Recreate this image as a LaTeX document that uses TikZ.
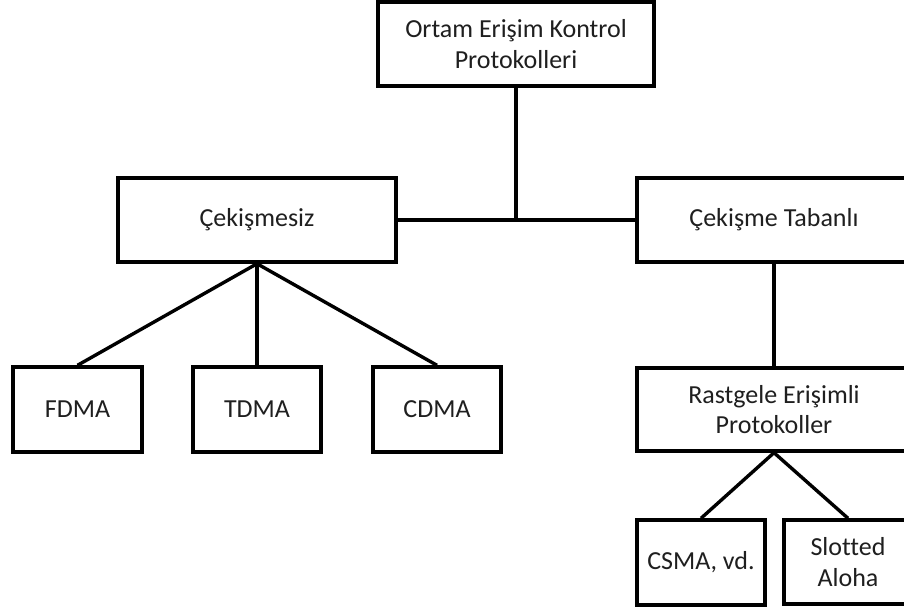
\documentclass[tikz,border=0pt]{standalone}
\usepackage{fontspec}
\setmainfont{Carlito}[Ligatures=NoCommon]
\begin{document}
\begin{tikzpicture}[x=1pt,y=-1pt,
  box/.style={draw=black, line width=3.4pt, fill=white, inner sep=0pt,
    align=center, font=\fontsize{26}{30.5}\selectfont, text=black!88},
  link/.style={draw=black, line width=3.4pt}]
\useasboundingbox (0,0) rectangle (904,611);
\fill[white] (0,0) rectangle (904,611);

% protocol tree boxes
\node[box, minimum width=276pt, minimum height=84pt] (root) at (516,44) {Ortam Erişim Kontrol\\Protokolleri};
\node[box, minimum width=278pt, minimum height=84pt] (cf) at (257,220) {Çekişmesiz};
\node[box, minimum width=274pt, minimum height=84pt] (cb) at (774,220) {Çekişme Tabanlı};
\node[box, minimum width=129pt, minimum height=85pt] (fdma) at (77.5,409.5) {FDMA};
\node[box, minimum width=128pt, minimum height=85pt] (tdma) at (257,409.5) {TDMA};
\node[box, minimum width=128pt, minimum height=85pt] (cdma) at (437,409.5) {CDMA};
\node[box, minimum width=274pt, minimum height=83pt] (rand) at (774,409.5) {Rastgele Erişimli\\Protokoller};
\node[box, minimum width=128pt, minimum height=85pt] (csma) at (701,562.5) {CSMA, vd.};
\node[box, minimum width=128pt, minimum height=84pt] (aloha) at (848,562) {Slotted\\Aloha};

% connectors
\coordinate (j) at (root.south |- cf.east);
\draw[link] (root.south) -- (j);
\draw[link] (cf.east) -- (cb.west);
\draw[link] (cf.south) -- (fdma.north);
\draw[link] (cf.south) -- (tdma.north);
\draw[link] (cf.south) -- (cdma.north);
\draw[link] (cb.south) -- (rand.north);
\draw[link] (rand.south) -- (csma.north);
\draw[link] (rand.south) -- (aloha.north);
\end{tikzpicture}
\end{document}
